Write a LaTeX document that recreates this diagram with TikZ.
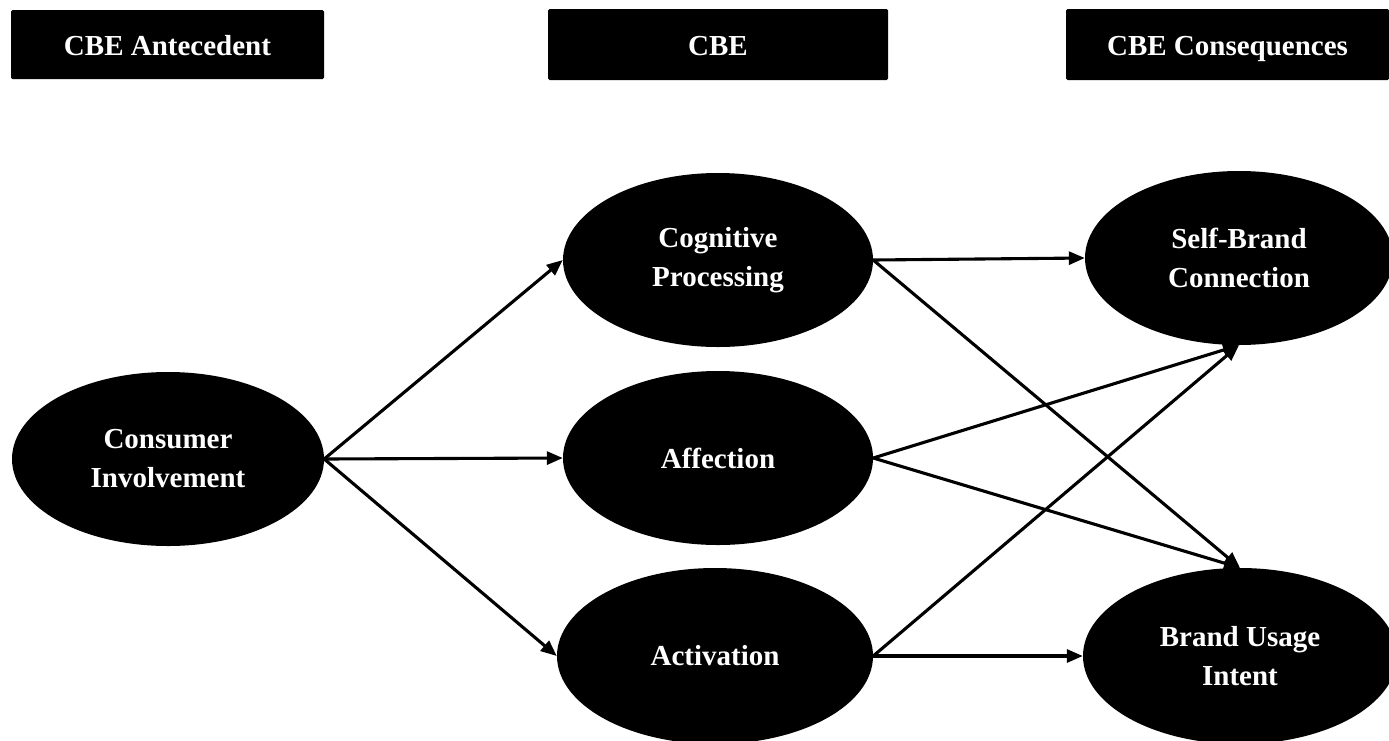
\documentclass[tikz,border=0pt]{standalone}
\usepackage{fontspec}
\setmainfont{Liberation Serif}
\usetikzlibrary{shapes.geometric,arrows.meta}
\begin{document}
\begin{tikzpicture}[x=1pt,y=-1pt,
  header/.style={rectangle,fill=black,rounded corners=1.5pt,text=white,
    font=\fontsize{29}{39}\selectfont\bfseries,inner sep=0pt,
    text height=21pt,text depth=0pt},
  construct/.style={ellipse,fill=black,text=white,align=center,inner sep=0pt,
    font=\fontsize{29}{39}\selectfont\bfseries},
  link/.style={line width=3.1pt,-{Triangle[length=16pt,width=13pt]}}]
\useasboundingbox (0,0) rectangle (1389,740);

% column headers
\node[header,minimum width=313pt,minimum height=69pt] (h1) at (167.5,44.5) {CBE Antecedent};
\node[header,minimum width=340pt,minimum height=71pt] (h2) at (718,44.5) {CBE};
\node[header,minimum width=323pt,minimum height=71pt] (h3) at (1227.5,44.5) {CBE Consequences};

% constructs
\node[construct,minimum width=312pt,minimum height=174pt] (ci) at (168,459) {Consumer\\Involvement};
\node[construct,minimum width=310pt,minimum height=174pt] (cp) at (718,260) {Cognitive\\Processing};
\node[construct,minimum width=310pt,minimum height=174pt] (af) at (718,458) {Affection};
\node[construct,minimum width=316pt,minimum height=176pt] (ac) at (715,656) {Activation};
\node[construct,minimum width=308pt,minimum height=174pt] (sb) at (1239,258) {Self-Brand\\Connection};
\node[construct,minimum width=314pt,minimum height=176pt] (bu) at (1240,656) {Brand Usage\\Intent};

% paths
\draw[link] (ci.east) -- (cp.west);
\draw[link] (ci.east) -- (af.west);
\draw[link] (ci.east) -- (ac.west);
\draw[link] (cp.east) -- (sb.west);
\draw[link] (cp.east) -- (bu.north);
\draw[link] (af.east) -- (sb.south);
\draw[link] (af.east) -- (bu.north);
\draw[link] (ac.east) -- (sb.south);
\draw[link] (ac.east) -- (bu.west);
\end{tikzpicture}
\end{document}
